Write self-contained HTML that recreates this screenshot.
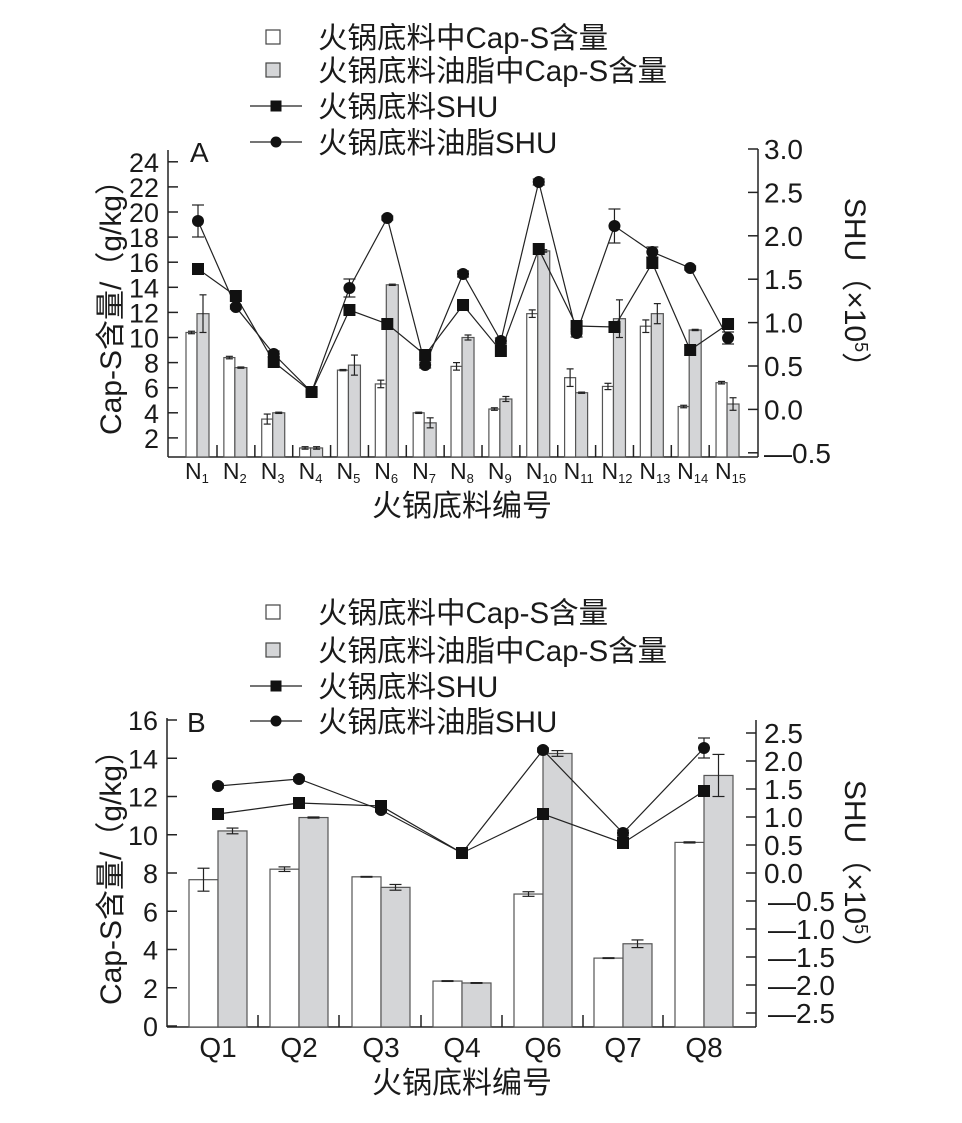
<!DOCTYPE html>
<html><head><meta charset="utf-8">
<style>
html,body{margin:0;padding:0;background:#fff;}
svg{display:block;font-family:"Liberation Sans","Noto Sans CJK SC",sans-serif;}
</style></head>
<body>
<svg id="s" width="962" height="1123" viewBox="0 0 962 1123" xmlns="http://www.w3.org/2000/svg">
<g id="g"></g>
</svg>
<script>
var g=document.getElementById('g');var out='';
function L(x1,y1,x2,y2,w){out+='<line x1="'+x1+'" y1="'+y1+'" x2="'+x2+'" y2="'+y2+'" stroke="#222" stroke-width="'+(w||1.5)+'"/>';}
function R(x,y,w,h,f){out+='<rect x="'+x+'" y="'+y+'" width="'+w+'" height="'+h+'" fill="'+f+'" stroke="#555" stroke-width="1.2"/>';}
function T(x,y,s,fs,anchor,extra){out+='<text x="'+x+'" y="'+y+'" font-size="'+fs+'" text-anchor="'+(anchor||'start')+'" fill="#1a1a1a" '+(extra||'')+'>'+s+'</text>';}
function EB(x,y1,y2,hw){L(x,y1,x,y2,1.2);L(x-hw,y1,x+hw,y1,1.2);L(x-hw,y2,x+hw,y2,1.2);}
function SQ(x,y,s){out+='<rect x="'+(x-s/2)+'" y="'+(y-s/2)+'" width="'+s+'" height="'+s+'" fill="#111"/>';}
function CI(x,y,r){out+='<circle cx="'+x+'" cy="'+y+'" r="'+r+'" fill="#111"/>';}
function PL(pts){out+='<polyline points="'+pts.map(function(p){return p.join(',')}).join(' ')+'" fill="none" stroke="#222" stroke-width="1.2"/>';}
function legend(y0,dy){
  var ys=[y0,y0+dy[0],y0+dy[1],y0+dy[2]];
  out+='<rect x="266" y="'+(ys[0]-7)+'" width="14" height="14" fill="#fff" stroke="#444" stroke-width="1.2"/>';
  out+='<rect x="266" y="'+(ys[1]-7)+'" width="14" height="14" fill="#d4d5d7" stroke="#444" stroke-width="1.2"/>';
  L(250,ys[2],302,ys[2],1.3);SQ(276,ys[2],11);
  L(250,ys[3],302,ys[3],1.3);CI(276,ys[3],5.5);
  var t=['火锅底料中Cap-S含量','火锅底料油脂中Cap-S含量','火锅底料SHU','火锅底料油脂SHU'];
  for(var i=0;i<4;i++)T(318,ys[i]+11,t[i],29.5);
}
/* ---------- Chart A ---------- */
legend(37,[33,69,105]);
var x0=168,x1=758,yb=457;
L(x0,150,x0,yb);L(x1,149,x1,yb);L(x0,yb,x1,yb);
function ya(v){return 463-v*12.55;}
for(var v=2;v<=24;v+=2){var y=ya(v);L(x0,y,x0+10,y);T(159,y+10,v,27,'end','textLength="'+(v<10?15:30)+'" lengthAdjust="spacingAndGlyphs"');}
for(var i=0;i<8;i++){var v=3.0-i*0.5;var y=149+i*43.4;L(x1-10,y,x1,y);
  T(764,y+10,(i==7?'—0.5':v.toFixed(1)),28,'start');}
T(190,162,'A',28);
var wA=[10.4,8.4,3.5,1.2,7.4,6.3,4.0,7.7,4.3,11.9,6.8,6.1,10.9,4.5,6.4];
var gA=[11.9,7.6,4.0,1.2,7.8,14.2,3.2,10.0,5.1,16.9,5.6,11.5,11.9,10.6,4.7];
var weA=[.1,.1,.4,.1,.05,.3,.05,.3,.1,.3,.7,.25,.5,.1,.1];
var geA=[1.5,.05,.05,.1,.8,.05,.4,.2,.2,.1,.05,1.5,.8,.05,.5];
var sqA=[269,296,362,392,310,324,355,305,351,249,326,327,263,350,324];
var ciA=[221,307,354,392,288,218,365,274,341,182,333,226,252,268,338];
var sp=37.86,sq=[],ci=[];
for(var i=0;i<15;i++){var c=198+i*sp;
  R(c-12,ya(wA[i]),11,yb-ya(wA[i]),'#fff');
  R(c-1,ya(gA[i]),12,yb-ya(gA[i]),'#d4d5d7');
  EB(c-6.5,ya(wA[i]+weA[i]),ya(wA[i]-weA[i]),3.5);
  EB(c+5,ya(gA[i]+geA[i]),ya(gA[i]-geA[i]),3.5);
  if(i<14)L(c+19,yb,c+19,yb-12);
  sq.push([c,sqA[i]]);ci.push([c,ciA[i]]);
  out+='<text x="'+(c-13)+'" y="479" font-size="23" fill="#1a1a1a">N<tspan font-size="13" dy="4">'+(i+1)+'</tspan></text>';
}
PL(sq);PL(ci);
var ceA=[16,2,3,2,9,2,3,3,3,3,4,17,5,2,6];
for(var i=0;i<15;i++){EB(ci[i][0],ci[i][1]-ceA[i],ci[i][1]+ceA[i],6);CI(ci[i][0],ci[i][1],6);SQ(sq[i][0],sq[i][1],12);}
T(462,516,'火锅底料编号',30,'middle');
T(0,0,'Cap-S含量/（g/kg）',30,'middle','transform="translate(121,300) rotate(-90)"');
T(0,0,'SHU（×10<tspan font-size="18" dy="-10">5</tspan><tspan dy="10">）</tspan>',30,'middle','transform="translate(845,290) rotate(90)"');

/* ---------- Chart B ---------- */
legend(612,[38,74,109]);
var bx0=167,bx1=756,byb=1027;
L(bx0,718,bx0,byb);L(bx1,720,bx1,byb);L(bx0,byb,bx1,byb);
function yb2(v){return 1026-v*19.125;}
for(var v=0;v<=16;v+=2){var y=yb2(v);L(bx0,y,bx0+10,y);T(158,y+10,v,27,'end','textLength="'+(v<10?15:30)+'" lengthAdjust="spacingAndGlyphs"');}
for(var i=0;i<11;i++){var v=2.5-i*0.5;var y=733+i*28;L(bx1-10,y,bx1,y);
  var s=v>=0?v.toFixed(1):'—'+(-v).toFixed(1);
  T(v>=0?764:768,y+10,s,28,'start');}
T(187,732,'B',28);
var labs=['Q1','Q2','Q3','Q4','Q6','Q7','Q8'];
var cs=[218,299,381,462,543,623,704];
var wB=[7.65,8.2,7.8,2.35,6.9,3.55,9.6],gB=[10.2,10.9,7.25,2.25,14.25,4.3,13.1];
var weB=[.6,.12,.02,.02,.12,.02,.03],geB=[.15,.03,.15,.02,.15,.2,1.1];
var sqB=[814,803,806,853,814,843,791],ciB=[786,779,810,853,750,833,748];
var sq2=[],ci2=[];
for(var i=0;i<7;i++){var c=cs[i];
  R(c-29,yb2(wB[i]),29,byb-yb2(wB[i]),'#fff');
  R(c,yb2(gB[i]),29,byb-yb2(gB[i]),'#d4d5d7');
  EB(c-14.5,yb2(wB[i]+weB[i]),yb2(wB[i]-weB[i]),6);
  EB(c+14.5,yb2(gB[i]+geB[i]),yb2(gB[i]-geB[i]),6);
  if(i<6)L(c+40,byb,c+40,byb-12);
  sq2.push([c,sqB[i]]);ci2.push([c,ciB[i]]);
  T(c,1057,labs[i],28,'middle');
}
PL(sq2);PL(ci2);
var ceB=[2,2,2,2,2,3,10];
for(var i=0;i<7;i++){EB(ci2[i][0],ci2[i][1]-ceB[i],ci2[i][1]+ceB[i],6);CI(ci2[i][0],ci2[i][1],6);SQ(sq2[i][0],sq2[i][1],12);}
T(462,1093,'火锅底料编号',30,'middle');
T(0,0,'Cap-S含量/（g/kg）',30,'middle','transform="translate(121,870) rotate(-90)"');
T(0,0,'SHU（×10<tspan font-size="18" dy="-10">5</tspan><tspan dy="10">）</tspan>',30,'middle','transform="translate(845,872) rotate(90)"');
g.innerHTML=out;
</script>
</body></html>
